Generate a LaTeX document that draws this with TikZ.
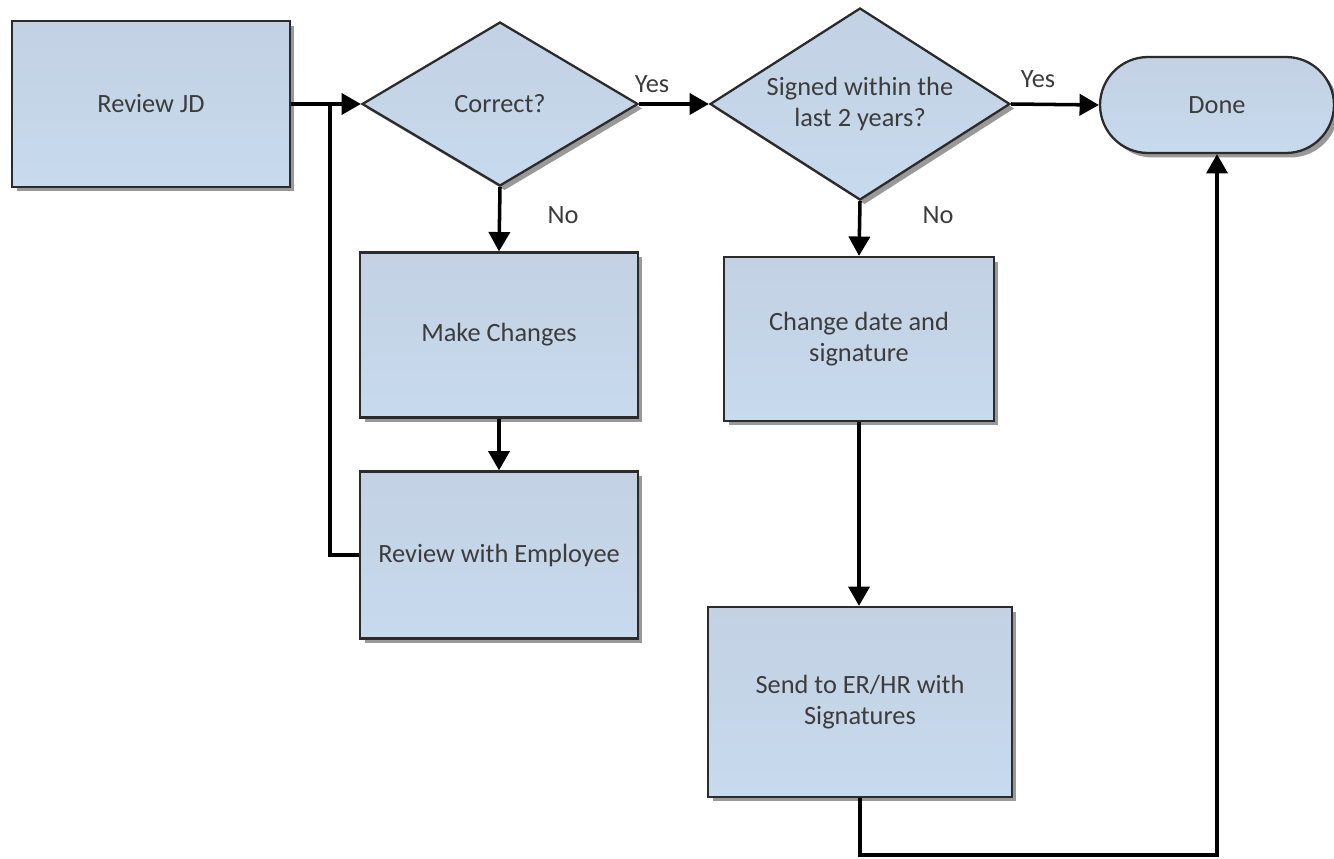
\documentclass[tikz,border=0pt]{standalone}
\usepackage{fontspec}
\setmainfont{Carlito}
\usepackage{tikz}
\usepackage{xcolor}
\usetikzlibrary{arrows.meta, shapes.geometric, shapes.misc, shadows, calc, positioning}

\definecolor{boxtop}{HTML}{C3D1E3}
\definecolor{boxbot}{HTML}{C7DAEE}
\definecolor{boxline}{HTML}{2B2B2B}
\definecolor{txt}{HTML}{3C3C3C}

\tikzset{
  base/.style={draw=boxline, line width=1.3pt, top color=boxtop, bottom color=boxbot,
    text=txt, align=center, inner sep=0pt,
    drop shadow={shadow xshift=0.09cm, shadow yshift=-0.09cm, fill=black!40, opacity=1}},
  stepbox/.style={base, rectangle},
  decision/.style={base, diamond},
  term/.style={base, rounded rectangle},
  lbl/.style={text=txt},
  flow/.style={line width=2pt, -{Triangle[length=11pt,width=12pt]}},
  line/.style={line width=2pt}
}

\begin{document}
\begin{tikzpicture}[x=0.02cm, y=-0.02cm, font=\fontsize{15}{18}\selectfont]
  \useasboundingbox (0,0) rectangle (1334,858);
  \node[stepbox, minimum width=5.56cm, minimum height=3.32cm] (jd) at (151,104) {Review JD};
  \node[decision, aspect=1.68, minimum width=5.52cm, minimum height=3.28cm] (cor) at (500,104) {Correct?};
  \node[decision, aspect=1.56, minimum width=6.0cm, minimum height=3.84cm] (sig) at (860,104) {Signed within the\\last 2 years?};
  \node[term, minimum width=4.68cm, minimum height=1.92cm] (done) at (1217,105) {Done};
  \node[stepbox, minimum width=5.56cm, minimum height=3.30cm] (mk) at (499,335) {Make Changes};
  \node[stepbox, minimum width=5.56cm, minimum height=3.34cm] (emp) at (499,555) {Review with Employee};
  \node[stepbox, minimum width=5.40cm, minimum height=3.28cm] (chg) at (859,339) {Change date and\\signature};
  \node[stepbox, minimum width=6.08cm, minimum height=3.80cm] (send) at (860,702) {Send to ER/HR with\\Signatures};
  \node[lbl] (yes1) at (652,84) {Yes};
  \node[lbl] (yes2) at (1038,79) {Yes};
  \node[lbl] (no1) at (563,215) {No};
  \node[lbl] (no2) at (938,215) {No};
  \coordinate (j) at (330,104);
  \coordinate (bend) at (860,855);
  \draw[flow] (jd.east) -- (cor.west);
  \draw[line] (emp.west) -| (j);
  \draw[flow] (cor.east) -- (sig.west);
  \draw[flow] (sig.east) -- (done.west);
  \draw[flow] (cor.south) -- (mk.north);
  \draw[flow] (mk.south) -- (emp.north);
  \draw[flow] (sig.south) -- (chg.north);
  \draw[flow] (chg.south) -- (chg.south |- send.north);
  \draw[flow] (send.south) -- (bend) -| (done.south);
\end{tikzpicture}
\end{document}
